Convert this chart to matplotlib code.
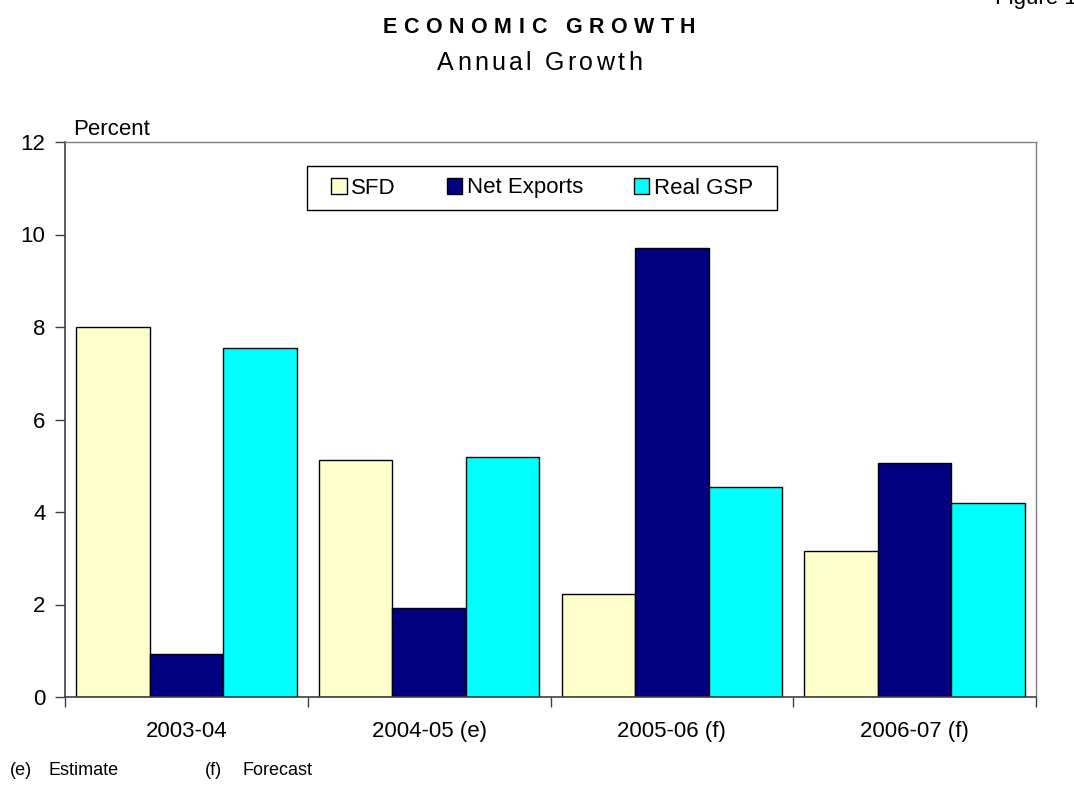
import numpy as np
import matplotlib
matplotlib.use('Agg')
import matplotlib.pyplot as plt
from matplotlib.patches import Rectangle
from matplotlib.font_manager import FontProperties, findfont, get_font

# ── Data ─────────────────────────────────────────────────────────────────
years = ['2003-04', '2004-05 (e)', '2005-06 (f)', '2006-07 (f)']
sfd = [8.0, 5.12, 2.23, 3.16]
net_exports = [0.93, 1.92, 9.71, 5.06]
real_gsp = [7.54, 5.20, 4.54, 4.20]

series = [('SFD', sfd, '#FFFFCC'),
          ('Net Exports', net_exports, '#000080'),
          ('Real GSP', real_gsp, '#00FFFF')]

W, H, DPI = 1074, 797, 100
FONT = ['Liberation Sans', 'DejaVu Sans']
plt.rcParams['font.family'] = FONT


def spaced_text(fig, s, xc, y_base, size, weight, width_px):
    """Draw a string centred at xc (px) with letters spread to width_px."""
    prop = FontProperties(family=FONT, size=size, weight=weight)
    font = get_font(findfont(prop))
    font.set_size(size, fig.dpi)
    adv = [font.load_char(ord(c)).linearHoriAdvance / 65536 for c in s]
    track = (width_px - sum(adv)) / (len(s) - 1)
    x = xc - width_px / 2
    for c, a in zip(s, adv):
        fig.text(x / W, 1 - y_base / H, c, fontproperties=prop,
                 ha='left', va='baseline')
        x += a + track


fig = plt.figure(figsize=(W / DPI, H / DPI), dpi=DPI)
ax = fig.add_axes([65 / W, 1 - 697 / H, (1036 - 65) / W, (697 - 142) / H])

bw = 0.303
x = np.arange(len(years)) + 0.5
for i, (name, vals, col) in enumerate(series):
    ax.bar(x + (i - 1) * bw, vals, width=bw, color=col, edgecolor='black',
           linewidth=1.0, label=name, zorder=2)

ax.set_xlim(0, len(years))
ax.set_ylim(0, 12)
ax.set_yticks(range(0, 13, 2))
ax.set_xticks(range(len(years) + 1))
ax.set_xticklabels([])
ax.set_xticks(x, minor=True)
ax.set_xticklabels(years, minor=True)
ax.tick_params(axis='x', which='major', direction='out', length=7,
               width=1, color='#404040')
ax.tick_params(axis='x', which='minor', length=0, pad=17, labelsize=16)
ax.tick_params(axis='y', direction='out', length=7, width=1,
               color='#404040', pad=7, labelsize=16)

for side in ('left', 'bottom'):
    ax.spines[side].set_color('#404040')
    ax.spines[side].set_linewidth(1.2)
for side in ('top', 'right'):
    ax.spines[side].set_color('#808080')
    ax.spines[side].set_linewidth(1.0)

# legend entries without their own frame, box drawn separately behind them
leg = ax.legend(ncol=3, loc='center',
                bbox_to_anchor=(542 / W, 1 - 188 / H),
                bbox_transform=fig.transFigure, borderaxespad=0,
                fontsize=16, frameon=False,
                handlelength=0.7, handleheight=0.7, handletextpad=0.2,
                columnspacing=2.28, borderpad=0.3)
leg.set_zorder(5)
ax.add_patch(Rectangle((307 / W, 1 - 210 / H), 470 / W, 44 / H,
                       transform=fig.transFigure, facecolor='white',
                       edgecolor='black', linewidth=1.0, zorder=4,
                       clip_on=False))

fig.text(73 / W, 1 - 135 / H, 'Percent', fontsize=16, ha='left',
         va='baseline')

spaced_text(fig, 'ECONOMIC GROWTH', 539, 33, 15.5, 'bold', 313)
spaced_text(fig, 'Annual Growth', 539.5, 70, 18, 'normal', 205)

fig.text(995 / W, 1 - 4 / H, 'Figure 1', fontsize=16, ha='left',
         va='baseline')

fig.text(10 / W, 1 - 775 / H, '(e)', fontsize=13, va='baseline')
fig.text(48 / W, 1 - 775 / H, 'Estimate', fontsize=13, va='baseline')
fig.text(205 / W, 1 - 775 / H, '(f)', fontsize=13, va='baseline')
fig.text(243 / W, 1 - 775 / H, 'Forecast', fontsize=13, va='baseline')

fig.savefig('out.png', dpi=DPI)
